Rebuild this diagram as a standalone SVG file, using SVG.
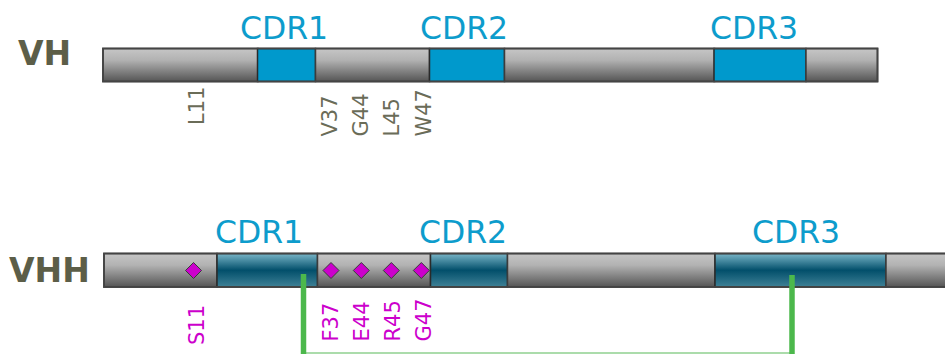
<svg xmlns="http://www.w3.org/2000/svg" width="945" height="354" viewBox="0 0 945 354">
<defs>
<linearGradient id="gGray" x1="0" y1="0" x2="0" y2="1">
<stop offset="0" stop-color="#c6c6c6"/>
<stop offset="0.35" stop-color="#b2b2b2"/>
<stop offset="1" stop-color="#555555"/>
</linearGradient>
<linearGradient id="gTeal" x1="0" y1="0" x2="0" y2="1">
<stop offset="0" stop-color="#7ab6c8"/>
<stop offset="0.5" stop-color="#024f6b"/>
<stop offset="1" stop-color="#3f8196"/>
</linearGradient>
<style>
.fr{fill:url(#gGray);stroke:#3c3c3c;stroke-width:1.5}
.cb{fill:#0099cc;stroke:#2a2a2a;stroke-width:1.5}
.ct{fill:url(#gTeal);stroke:#2a2a2a;stroke-width:1.5}
.outline{fill:none;stroke:#444;stroke-width:1.8}
.title{font-family:"DejaVu Sans",Verdana,sans-serif;font-weight:bold;font-size:33px;fill:#5c5e48}
.cdr{font-family:"DejaVu Sans",Verdana,sans-serif;font-size:31.5px;fill:#0d9ccc;text-anchor:middle}
.resg{font-family:"DejaVu Sans",Verdana,sans-serif;font-size:21px;fill:#6a6c58}
.resm{font-family:"DejaVu Sans",Verdana,sans-serif;font-size:21px;fill:#cc00cc}
.dia{fill:#cc00cc;stroke:#3a3a3a;stroke-width:1}
.gv{stroke:#4cb84c;stroke-width:5.5;fill:none}
.gh{stroke:#8fd08f;stroke-width:1.5;fill:none}
</style>
</defs>

<g id="vh">
<text class="title" x="18" y="65">VH</text>
<rect class="fr" x="103" y="48.5" width="155" height="33"/>
<rect class="cb" x="257.5" y="48.5" width="58" height="33"/>
<rect class="fr" x="315.5" y="48.5" width="114" height="33"/>
<rect class="cb" x="429.5" y="48.5" width="75" height="33"/>
<rect class="fr" x="504.5" y="48.5" width="210" height="33"/>
<rect class="cb" x="714" y="48.5" width="92" height="33"/>
<rect class="fr" x="806" y="48.5" width="71.5" height="33"/>
<rect class="outline" x="103" y="48.5" width="774.5" height="33"/>
<text class="cdr" x="284" y="39">CDR1</text>
<text class="cdr" x="464" y="39">CDR2</text>
<text class="cdr" x="754" y="39">CDR3</text>
<text class="resg" transform="translate(204,125) rotate(-90)">L11</text>
<text class="resg" transform="translate(336.5,136.5) rotate(-90)">V37</text>
<text class="resg" transform="translate(368,136.5) rotate(-90)">G44</text>
<text class="resg" transform="translate(399,136.5) rotate(-90)">L45</text>
<text class="resg" transform="translate(430.5,136.5) rotate(-90)">W47</text>
</g>

<g id="vhh">
<text class="title" x="9" y="281.5">VHH</text>
<rect class="fr" x="104" y="253.5" width="113" height="33.5"/>
<rect class="ct" x="217" y="253.5" width="100.5" height="33.5"/>
<rect class="fr" x="317.5" y="253.5" width="113" height="33.5"/>
<rect class="ct" x="430.5" y="253.5" width="77" height="33.5"/>
<rect class="fr" x="507.5" y="253.5" width="207.5" height="33.5"/>
<rect class="ct" x="715" y="253.5" width="171" height="33.5"/>
<rect class="fr" x="886" y="253.5" width="70" height="33.5"/>
<rect class="outline" x="104" y="253.5" width="852" height="33.5"/>
<text class="cdr" x="259" y="243">CDR1</text>
<text class="cdr" x="463" y="243">CDR2</text>
<text class="cdr" x="796" y="243">CDR3</text>
<path class="dia" d="M193.5 262.5 L201.5 270.5 L193.5 278.5 L185.5 270.5 Z"/>
<path class="dia" d="M331 262.5 L339 270.5 L331 278.5 L323 270.5 Z"/>
<path class="dia" d="M361.3 262.5 L369.3 270.5 L361.3 278.5 L353.3 270.5 Z"/>
<path class="dia" d="M391.3 262.5 L399.3 270.5 L391.3 278.5 L383.3 270.5 Z"/>
<path class="dia" d="M421.3 262.5 L429.3 270.5 L421.3 278.5 L413.3 270.5 Z"/>
<text class="resm" transform="translate(203.5,345) rotate(-90)">S11</text>
<text class="resm" transform="translate(337.5,341.5) rotate(-90)">F37</text>
<text class="resm" transform="translate(369,341.5) rotate(-90)">E44</text>
<text class="resm" transform="translate(400,341.5) rotate(-90)">R45</text>
<text class="resm" transform="translate(430.5,341.5) rotate(-90)">G47</text>
</g>

<g id="connectors">
<path class="gh" d="M303.5 353 H792"/>
<path class="gv" d="M303.5 274 V354"/>
<path class="gv" d="M792 275 V354"/>
</g>
</svg>
